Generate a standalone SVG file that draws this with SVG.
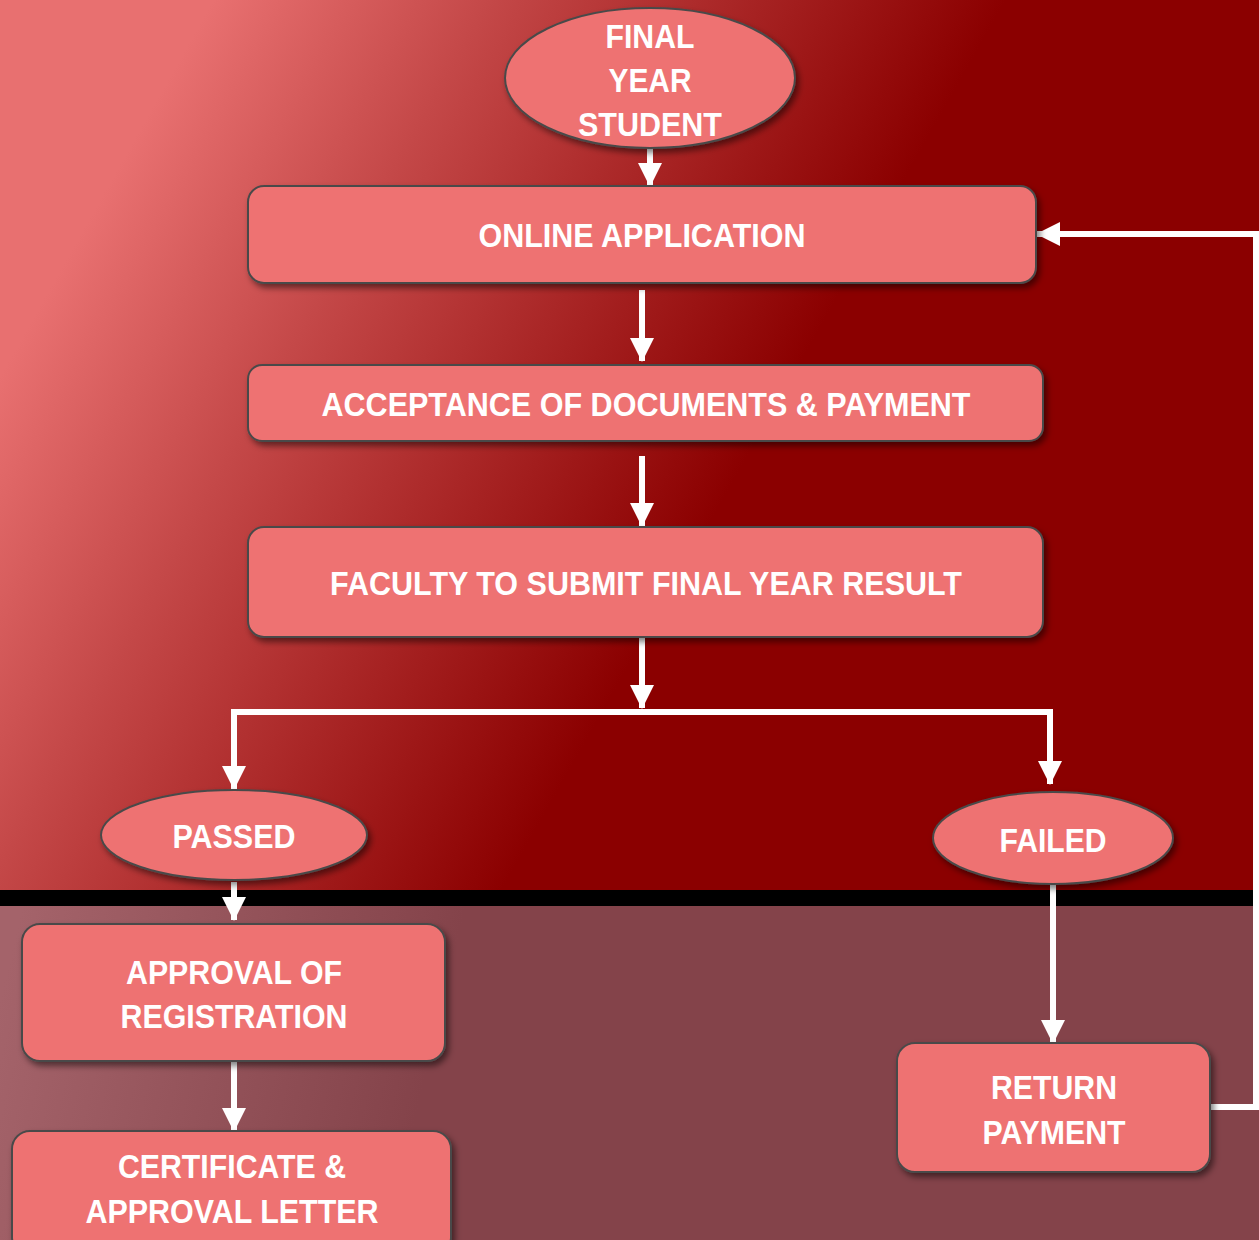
<svg xmlns="http://www.w3.org/2000/svg" width="1259" height="1240" viewBox="0 0 1259 1240">
<defs>
<linearGradient id="bgTop" gradientUnits="userSpaceOnUse" x1="100" y1="200" x2="700" y2="540">
<stop offset="0" stop-color="#e87070"/>
<stop offset="0.35" stop-color="#c44848"/>
<stop offset="1" stop-color="#8b0000"/>
</linearGradient>
<linearGradient id="bgBot" gradientUnits="userSpaceOnUse" x1="0" y1="1000" x2="420" y2="1100">
<stop offset="0" stop-color="#a4636a"/>
<stop offset="1" stop-color="#84434a"/>
</linearGradient>
<filter id="sh" x="-10%" y="-10%" width="125%" height="130%">
<feDropShadow dx="3" dy="4" stdDeviation="3" flood-color="#000" flood-opacity="0.5"/>
</filter>
<marker id="ah" markerUnits="userSpaceOnUse" markerWidth="24" markerHeight="24" viewBox="0 0 24 24" refX="23" refY="12" orient="auto">
<path d="M0,0 L24,12 L0,24 Z" fill="#fff"/>
</marker>
<style>
.node{fill:#ee7272;stroke:#4a4a4a;stroke-width:2;filter:url(#sh)}
.lbl{font-family:"Liberation Sans",Arial,sans-serif;font-weight:bold;font-size:33px;fill:#fff;text-anchor:middle;dominant-baseline:central}
.con{fill:none;stroke:#fff;stroke-width:6}
</style>
</defs>
<rect x="0" y="0" width="1259" height="890" fill="url(#bgTop)"/>
<rect x="0" y="890" width="1259" height="16" fill="#000"/>
<rect x="0" y="906" width="1259" height="334" fill="url(#bgBot)"/>

<g id="connectors">
<path class="con" d="M650,148 V186" marker-end="url(#ah)"/>
<path class="con" d="M642,290 V361" marker-end="url(#ah)"/>
<path class="con" d="M642,456 V526" marker-end="url(#ah)"/>
<path class="con" d="M642,637 V708" marker-end="url(#ah)"/>
<path class="con" d="M234,789 V712 H1050 V784" marker-end="url(#ah)"/>
<path class="con" d="M234,712 V789" marker-end="url(#ah)"/>
<path class="con" d="M234,882 V920" marker-end="url(#ah)"/>
<path class="con" d="M234,1061 V1131" marker-end="url(#ah)"/>
<path class="con" d="M1053,884 V1043" marker-end="url(#ah)"/>
<path class="con" d="M1210,1107 H1256 V234 H1037" marker-end="url(#ah)"/>
</g>

<g id="n-student">
<ellipse class="node" cx="650" cy="78" rx="145" ry="70"/>
<text class="lbl" x="650" y="36" textLength="89" lengthAdjust="spacingAndGlyphs">FINAL</text>
<text class="lbl" x="650" y="80" textLength="83" lengthAdjust="spacingAndGlyphs">YEAR</text>
<text class="lbl" x="650" y="124" textLength="144" lengthAdjust="spacingAndGlyphs">STUDENT</text>
</g>
<g id="n-online">
<rect class="node" x="248" y="186" width="788" height="97" rx="16"/>
<text class="lbl" x="642" y="235" textLength="327" lengthAdjust="spacingAndGlyphs">ONLINE APPLICATION</text>
</g>
<g id="n-accept">
<rect class="node" x="248" y="365" width="795" height="76" rx="14"/>
<text class="lbl" x="646" y="404" textLength="649" lengthAdjust="spacingAndGlyphs">ACCEPTANCE OF DOCUMENTS &amp; PAYMENT</text>
</g>
<g id="n-faculty">
<rect class="node" x="248" y="527" width="795" height="110" rx="16"/>
<text class="lbl" x="646" y="583" textLength="632" lengthAdjust="spacingAndGlyphs">FACULTY TO SUBMIT FINAL YEAR RESULT</text>
</g>
<g id="n-passed">
<ellipse class="node" cx="234" cy="835" rx="133" ry="45"/>
<text class="lbl" x="234" y="836" textLength="123" lengthAdjust="spacingAndGlyphs">PASSED</text>
</g>
<g id="n-failed">
<ellipse class="node" cx="1053" cy="838" rx="120" ry="46"/>
<text class="lbl" x="1053" y="840" textLength="107" lengthAdjust="spacingAndGlyphs">FAILED</text>
</g>
<g id="n-approval">
<rect class="node" x="22" y="924" width="423" height="137" rx="18"/>
<text class="lbl" x="234" y="972" textLength="216" lengthAdjust="spacingAndGlyphs">APPROVAL OF</text>
<text class="lbl" x="234" y="1016" textLength="227" lengthAdjust="spacingAndGlyphs">REGISTRATION</text>
</g>
<g id="n-cert">
<rect class="node" x="12" y="1131" width="439" height="125" rx="18"/>
<text class="lbl" x="232" y="1166" textLength="228" lengthAdjust="spacingAndGlyphs">CERTIFICATE &amp;</text>
<text class="lbl" x="232" y="1211" textLength="293" lengthAdjust="spacingAndGlyphs">APPROVAL LETTER</text>
</g>
<g id="n-return">
<rect class="node" x="897" y="1043" width="313" height="129" rx="18"/>
<text class="lbl" x="1054" y="1087" textLength="126" lengthAdjust="spacingAndGlyphs">RETURN</text>
<text class="lbl" x="1054" y="1132" textLength="143" lengthAdjust="spacingAndGlyphs">PAYMENT</text>
</g>
</svg>
